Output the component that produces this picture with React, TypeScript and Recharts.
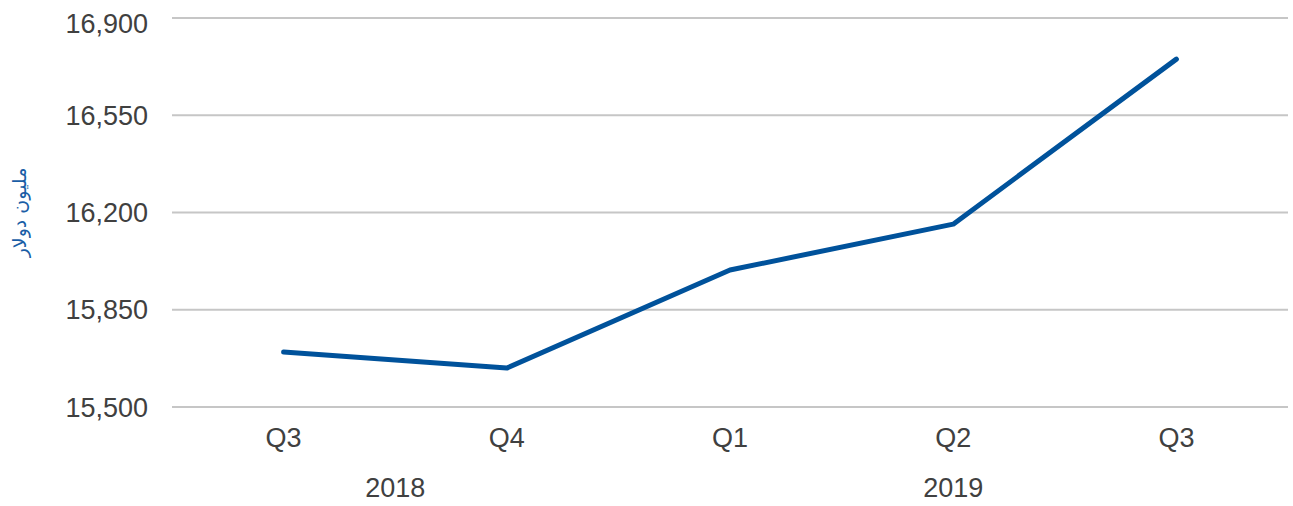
import React from "react";
import { LineChart, Line, XAxis, YAxis, CartesianGrid } from "recharts";

const quarters = ["Q3", "Q4", "Q1", "Q2", "Q3"];
const years = ["2018", "2018", "2019", "2019", "2019"];
const values = [15698, 15640, 15993, 16158, 16752];
const yTicks = [15500, 15850, 16200, 16550, 16900];
const yLabel = "مليون دولار";

const data = quarters.map((q, i) => ({ key: `${q}-${years[i]}`, quarter: q, year: years[i], value: values[i] }));

const W = 1285;
const H = 498;
const Y_AXIS_W = 164;
const M = { top: 10, right: 5, left: 0, bottom: 8 };
const STEP = (W - Y_AXIS_W - M.left - M.right) / quarters.length;
const PAD = { left: STEP / 2, right: STEP / 2 };

const TEXT = "#404040";
const FONT = "'Liberation Sans', Arial, sans-serif";

const YearTick = (props: any) => {
  const { x, y, index } = props;
  const yr = years[index];
  if (index > 0 && years[index - 1] === yr) return null;
  let len = 0;
  for (let i = index; i < years.length && years[i] === yr; i++) len++;
  const cx = x + ((len - 1) / 2) * STEP;
  return (
    <text x={cx} y={y} dy="0.71em" textAnchor="middle" fill={TEXT} fontSize={27} fontFamily={FONT}>
      {yr}
    </text>
  );
};

const YLabel = (props: any) => {
  const { viewBox } = props;
  const cx = viewBox.x + 11;
  const cy = viewBox.y + viewBox.height / 2;
  return (
    <text
      x={cx}
      y={cy}
      transform={`rotate(-90, ${cx}, ${cy})`}
      textAnchor="middle"
      dominantBaseline="central"
      fill="#1a5ea6"
      fontSize={19}
      fontFamily="'DejaVu Sans', sans-serif"
    >
      {yLabel}
    </text>
  );
};

export default function App() {
  return (
    <div style={{ position: "absolute", top: 8, left: 8, width: W, height: H, background: "#fff" }}>
      <LineChart width={W} height={H} data={data} margin={M}>
        <CartesianGrid vertical={false} stroke="#c6c6c6" strokeWidth={2} />
        <XAxis
          dataKey="key"
          tickFormatter={(_v: any, i: number) => quarters[i]}
          axisLine={false}
          tickLine={false}
          tickSize={0}
          tickMargin={21}
          height={40}
          interval={0}
          padding={PAD}
          tick={{ fill: TEXT, fontSize: 27, fontFamily: FONT }}
        />
        <XAxis
          xAxisId="year"
          dataKey="key"
          axisLine={false}
          tickLine={false}
          tickSize={0}
          tickMargin={31}
          height={51}
          interval={0}
          padding={PAD}
          tick={<YearTick />}
        />
        <YAxis
          domain={[15500, 16900]}
          ticks={yTicks}
          width={Y_AXIS_W}
          axisLine={false}
          tickLine={false}
          tickSize={0}
          tickMargin={24}
          tickFormatter={(v: number) => v.toLocaleString("en-US")}
          tick={{ fill: TEXT, fontSize: 27, fontFamily: FONT }}
          label={<YLabel />}
        />
        <Line
          type="linear"
          dataKey="value"
          stroke="#00529b"
          strokeWidth={5}
          strokeLinecap="round"
          strokeLinejoin="round"
          dot={false}
          activeDot={false}
          isAnimationActive={false}
        />
      </LineChart>
    </div>
  );
}
